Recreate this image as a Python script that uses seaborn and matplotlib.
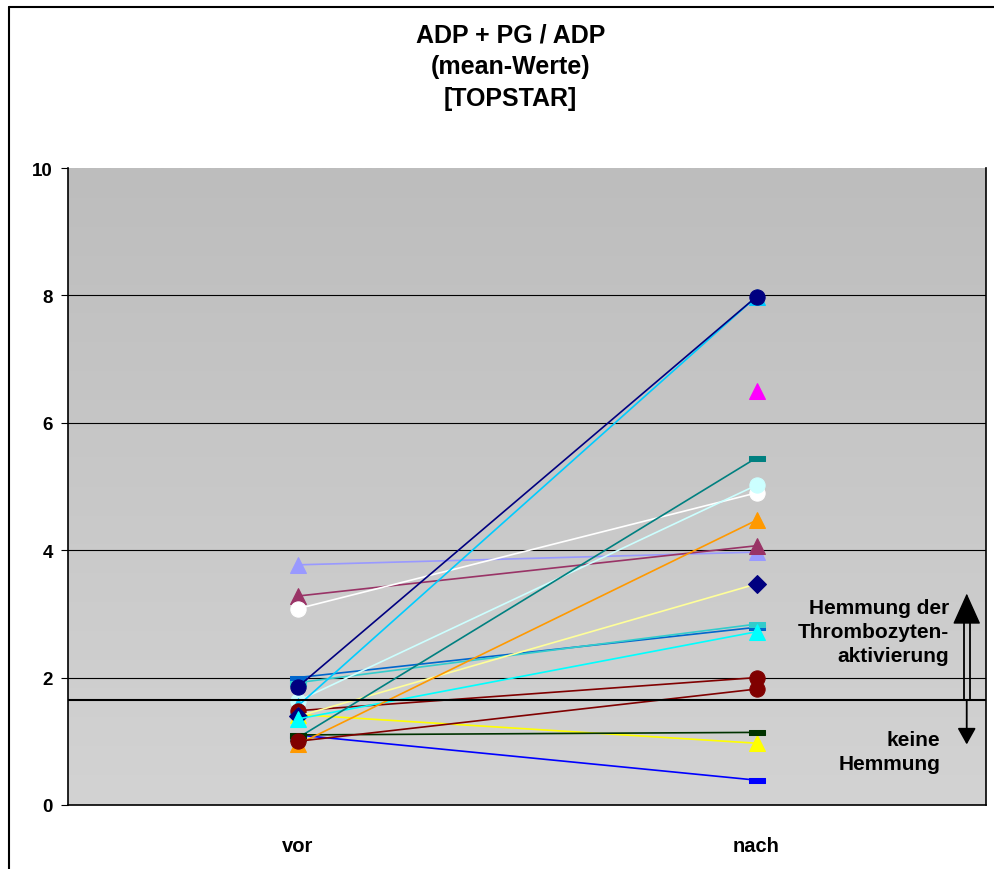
import numpy as np
import matplotlib
matplotlib.use("Agg")
import matplotlib.pyplot as plt
from matplotlib.lines import Line2D
import pandas as pd
import seaborn as sns

sns.set_style("white")
plt.rcParams['font.family'] = ['Liberation Sans', 'DejaVu Sans']
plt.rcParams['text.color'] = 'black'
plt.rcParams['xtick.color'] = 'black'
plt.rcParams['ytick.color'] = 'black'

time_labels = ['vor', 'nach']
vor_vals  = [3.77, 3.28, 3.08, 2.00, 1.92, 1.63, 1.55, 1.85, 1.48, 1.42, 1.39, 1.35, 1.10, 1.05, 1.10, 0.95, 1.00, np.nan]
nach_vals = [3.97, 4.07, 4.90, 2.79, 2.84, 5.02, 7.98, 7.98, 2.00, 0.97, 3.47, 2.72, 0.39, 5.45, 1.14, 4.47, 1.82, 6.50]
line_colors = ['#9999FF', '#993366', '#FFFFFF', '#0066CC', '#33CCCC', '#CCFFFF', '#00CCFF', '#000080',
               '#800000', '#FFFF00', '#FFFF99', '#00FFFF', '#0000FF', '#008080', '#003300', '#FF9900',
               '#800000', '#FF00FF']
marker_colors = ['#9999FF', '#993366', '#FFFFFF', '#0066CC', '#33CCCC', '#CCFFFF', '#00CCFF', '#000080',
                 '#800000', '#FFFF00', '#000080', '#00FFFF', '#0000FF', '#008080', '#003300', '#FF9900',
                 '#800000', '#FF00FF']
marker_kinds = ['^', '^', 'o', 'dash', 'dash', 'o', '^', 'o', 'o', '^', 'D', '^', 'dash', 'dash', 'dash', '^', 'o', '^']
ref_level = 1.65

dash = [(-1, -0.3), (1, -0.3), (1, 0.3), (-1, 0.3), (-1, -0.3)]

fig = plt.figure(figsize=(9.95, 8.7), dpi=100)
ax = fig.add_axes([68/995, 64/870, 918/995, 637/870])

# gradient plot background
grad = np.linspace(0, 1, 256).reshape(-1, 1)
ax.imshow(grad, extent=[-0.5, 1.5, 0, 10], aspect='auto', origin='lower',
          cmap=matplotlib.colors.LinearSegmentedColormap.from_list('bg', ['#D3D3D3', '#BDBDBD']),
          zorder=0)

for i in range(len(vor_vals)):
    df = pd.DataFrame({'x': [0, 1], 'y': [vor_vals[i], nach_vals[i]]})
    m = dash if marker_kinds[i] == 'dash' else marker_kinds[i]
    ms = 12 if marker_kinds[i] == 'dash' else (9 if marker_kinds[i] == 'D' else 11)
    if np.isnan(vor_vals[i]):
        df = df.dropna()
    sns.lineplot(data=df, x='x', y='y', ax=ax, color=line_colors[i], lw=1.2,
                 marker=m, markersize=ms, markerfacecolor=marker_colors[i],
                 markeredgecolor=marker_colors[i], zorder=3 + i * 0.01)

ax.axhline(ref_level, color='black', lw=1.5, zorder=5)

for yv in [2, 4, 6, 8]:
    ax.axhline(yv, color='black', lw=0.8, zorder=1)

ax.set_xlim(-0.5, 1.5)
ax.set_ylim(0, 10)
ax.set_xticks([0, 1])
ax.set_xticklabels(time_labels, fontsize=14.5, fontweight='bold')
ax.set_xticks([-0.5, 0.5, 1.5], minor=True)
ax.tick_params(axis='x', which='major', length=0, pad=22)
ax.tick_params(axis='x', which='minor', length=6, direction='out', color='black')
ax.set_yticks([0, 2, 4, 6, 8, 10])
ax.set_yticklabels(['0', '2', '4', '6', '8', '10'], fontsize=13.5, fontweight='bold')
ax.tick_params(axis='y', length=5, direction='out', color='black', pad=6, left=True)
ax.set_xlabel('')
ax.set_ylabel('')
ax.spines['top'].set_visible(False)
for s in ['left', 'bottom', 'right']:
    ax.spines[s].set_color('black')
    ax.spines[s].set_linewidth(1.2)

# arrows and annotations
ax_x = 1.458
gap = 0.0065
for dx in (-gap, gap):
    ax.plot([ax_x + dx, ax_x + dx], [ref_level, 2.95], color='black', lw=1.3, zorder=6)
ax.annotate('', xy=(ax_x, 3.32), xytext=(ax_x, 2.92),
            arrowprops=dict(arrowstyle='-|>,head_width=0.45,head_length=1.0', mutation_scale=20,
                            lw=1, color='black', shrinkA=0, shrinkB=0), zorder=7)
ax.annotate('', xy=(ax_x, 0.95), xytext=(ax_x, ref_level),
            arrowprops=dict(arrowstyle='-|>,head_width=0.28,head_length=0.5', mutation_scale=20,
                            lw=1.3, color='black', shrinkA=0, shrinkB=0), zorder=6)
ax.text(1.42, 2.72, 'Hemmung der\nThrombozyten-\naktivierung', ha='right', va='center',
        fontsize=15, fontweight='bold', linespacing=1.33, zorder=8)
ax.text(1.40, 0.84, 'keine\nHemmung', ha='right', va='center',
        fontsize=15, fontweight='bold', linespacing=1.33, zorder=8)

fig.text(0.513, 0.923, 'ADP + PG / ADP\n(mean-Werte)\n[TOPSTAR]', ha='center', va='center',
         fontsize=18, fontweight='bold', linespacing=1.42)

# outer chart border (left and top visible)
fig.add_artist(Line2D([8.5/995, 8.5/995], [0, 1 - 7.5/870], color='black', lw=1.5, transform=fig.transFigure))
fig.add_artist(Line2D([8.5/995, 1], [1 - 7.5/870, 1 - 7.5/870], color='black', lw=1.5, transform=fig.transFigure))

fig.savefig('out.png', dpi=100)
